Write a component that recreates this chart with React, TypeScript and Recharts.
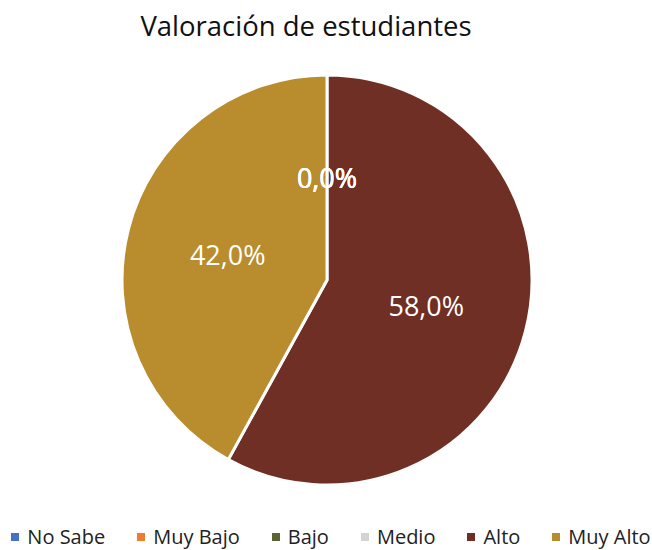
import React from "react";
import { PieChart, Pie, Cell, Legend } from "recharts";

const categories = ["No Sabe", "Muy Bajo", "Bajo", "Medio", "Alto", "Muy Alto"];
const values = [0, 0, 0, 0, 58, 42];
const colors = ["#4472C4", "#ED7D31", "#5A6332", "#D3D3D3", "#702F24", "#B98D2E"];

const data = categories.map((name, i) => ({ name, value: values[i] }));

const FONT = "'Open Sans', 'Noto Sans', sans-serif";
const RADIAN = Math.PI / 180;

const renderLabel = (props: any) => {
  const { cx, cy, midAngle, outerRadius, percent } = props;
  const r = outerRadius * 0.5;
  const x = cx + r * Math.cos(-midAngle * RADIAN);
  const y = cy + r * Math.sin(-midAngle * RADIAN);
  const txt = ((percent || 0) * 100).toFixed(1).replace(".", ",") + "%";
  return (
    <text
      x={x}
      y={y}
      fill="#FFFFFF"
      textAnchor="middle"
      dominantBaseline="central"
      fontFamily={FONT}
      fontSize={27}
    >
      {txt}
    </text>
  );
};

const renderLegend = () => (
  <div
    style={{
      display: "flex",
      justifyContent: "center",
      alignItems: "center",
      gap: 32,
      marginLeft: 10,
      fontFamily: FONT,
      fontSize: 20,
      color: "#222",
      whiteSpace: "nowrap",
    }}
  >
    {categories.map((c, i) => (
      <div key={c} style={{ display: "flex", alignItems: "center" }}>
        <span
          style={{
            display: "inline-block",
            width: 8,
            height: 8,
            background: colors[i],
            marginRight: 8,
          }}
        />
        <span>{c}</span>
      </div>
    ))}
  </div>
);

export default function App() {
  return (
    <div style={{ position: "absolute", left: 0, top: 0, width: 652, height: 550, background: "#fff" }}>
      <PieChart width={652} height={550} margin={{ top: 0, right: 0, bottom: 0, left: 0 }}>
        <text
          x={306}
          y={36}
          textAnchor="middle"
          fontFamily={FONT}
          fontSize={27.5}
          fill="#111"
        >
          Valoración de estudiantes
        </text>
        <Pie
          data={data}
          dataKey="value"
          nameKey="name"
          cx={327}
          cy={280}
          outerRadius={205}
          startAngle={90}
          endAngle={-270}
          stroke="#FFFFFF"
          strokeWidth={3}
          label={renderLabel}
          labelLine={false}
          isAnimationActive={false}
        >
          {data.map((d, i) => (
            <Cell key={d.name} fill={colors[i]} />
          ))}
        </Pie>
        <Legend
          verticalAlign="bottom"
          content={renderLegend}
          wrapperStyle={{ bottom: 0 }}
        />
      </PieChart>
    </div>
  );
}
